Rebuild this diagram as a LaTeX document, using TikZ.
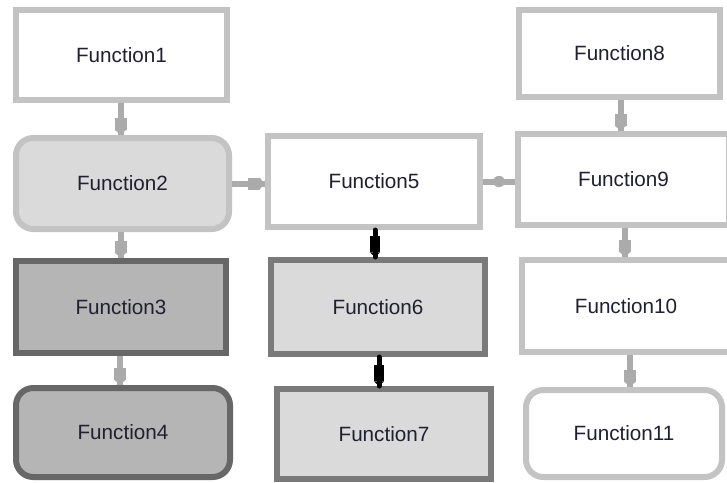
\documentclass[tikz,border=0pt]{standalone}
\usepackage{fontspec}
\setmainfont{Liberation Sans}
\usetikzlibrary{arrows.meta,decorations.markings}
\newdimen\pxu \pxu=0.75pt
\definecolor{lightborder}{HTML}{C3C3C3}
\definecolor{darkborder}{HTML}{676767}
\definecolor{midborder}{HTML}{7A7A7A}
\definecolor{lightfill}{HTML}{DADADA}
\definecolor{darkfill}{HTML}{B5B5B5}
\definecolor{conngray}{HTML}{ABABAB}
\definecolor{txt}{HTML}{202030}
\tikzset{
  fbox/.style={draw=lightborder, fill=white, line width=4.5pt, rectangle,
    font=\fontsize{15.5}{18}\selectfont, text=txt, inner sep=0pt},
  roundbox/.style={rounded corners=13pt},
  conn/.style={draw=conngray, line width=4.5pt,
    postaction={decorate, decoration={markings,
      mark=at position -2pt with {
        \fill[conngray] (-10.5pt,-4.5pt) rectangle (-2pt,4.5pt);
        \fill[conngray] (-2pt,-4.5pt) -- (1.5pt,0pt) -- (-2pt,4.5pt) -- cycle;}}}},
  bconn/.style={draw=black, line width=3.75pt, line cap=round,
    postaction={decorate, decoration={markings,
      mark=at position -0.5pt with {
        \fill[black] (-15pt,-3.9pt) rectangle (-3pt,3.9pt);
        \fill[black] (-3pt,-3.9pt) -- (0.5pt,0pt) -- (-3pt,3.9pt) -- cycle;}}}},
}
\begin{document}
\begin{tikzpicture}[x=0.75pt,y=-0.75pt]
\useasboundingbox (0,0) rectangle (727,482);
\clip (0,0) rectangle (727,482);
\fill[white] (0,0) rectangle (727,482);
% column 1
\node[fbox, minimum width=211\pxu, minimum height=90\pxu] (f1) at (121.5,55) {Function1};
\node[fbox, roundbox, fill=lightfill, minimum width=213\pxu, minimum height=91\pxu] (f2) at (122.5,183.5) {Function2};
\node[fbox, draw=darkborder, fill=darkfill, minimum width=210\pxu, minimum height=92\pxu] (f3) at (121,307) {Function3};
\node[fbox, roundbox, draw=darkborder, fill=darkfill, minimum width=214\pxu, minimum height=89\pxu] (f4) at (123,432.5) {Function4};
% column 2
\node[fbox, minimum width=212\pxu, minimum height=91\pxu] (f5) at (374,181.5) {Function5};
\node[fbox, draw=midborder, fill=lightfill, minimum width=214\pxu, minimum height=94\pxu] (f6) at (378,307) {Function6};
\node[fbox, draw=midborder, fill=lightfill, minimum width=214\pxu, minimum height=90\pxu] (f7) at (384,434) {Function7};
% column 3
\node[fbox, minimum width=201\pxu, minimum height=87\pxu] (f8) at (619.5,53.5) {Function8};
\node[fbox, minimum width=211\pxu, minimum height=91\pxu] (f9) at (623.5,179.5) {Function9};
\node[fbox, minimum width=208\pxu, minimum height=92\pxu] (f10) at (626,306) {Function10};
\node[fbox, roundbox, minimum width=196\pxu, minimum height=87\pxu] (f11) at (624,433.5) {Function11};
% connector start points
\coordinate (s1) at ([xshift=-0.75pt]f1.south);
\coordinate (s2) at ([xshift=-1.5pt]f2.south);
\coordinate (s3) at ([xshift=-0.75pt]f3.south);
\coordinate (s8) at ([xshift=0.75pt]f8.south);
\coordinate (s9) at ([xshift=1.1pt]f9.south);
\coordinate (s10) at ([xshift=3pt]f10.south);
\coordinate (s5) at ([xshift=0.75pt]f5.south);
\coordinate (s6) at ([xshift=0.75pt]f6.south);
% gray connectors
\draw[conn] (s1) -- (s1 |- f2.north);
\draw[conn] (s2) -- (s2 |- f3.north);
\draw[conn] (s3) -- (s3 |- f4.north);
\draw[conn] (f2.east) -- (f2.east -| f5.west);
\draw[draw=conngray, line width=4.5pt] (f5.east) -- (f5.east -| f9.west) coordinate[midway] (m59);
\fill[conngray] (m59) ellipse (4.5pt and 4.2pt);
\draw[conn] (s8) -- (s8 |- f9.north);
\draw[conn] (s9) -- (s9 |- f10.north);
\draw[conn] (s10) -- (s10 |- f11.north);
% black connectors
\draw[bconn] (s5) -- (s5 |- f6.north);
\draw[bconn] (s6) -- (s6 |- f7.north);
\end{tikzpicture}
\end{document}
